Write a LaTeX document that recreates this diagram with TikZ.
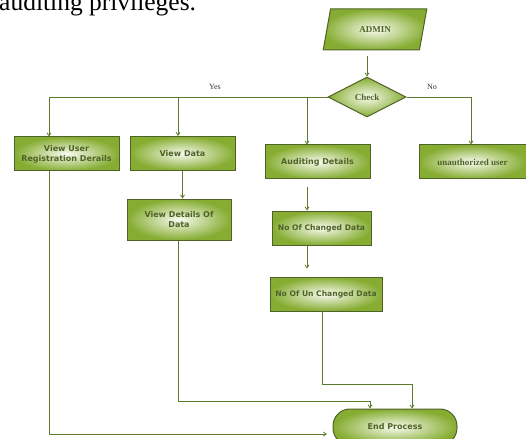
\documentclass[tikz,border=0pt]{standalone}
\usepackage{fontspec}
\setmainfont{Liberation Serif}
\setsansfont{DejaVu Sans}
\usetikzlibrary{shapes.geometric,arrows.meta}
\definecolor{olive}{HTML}{4F6228}
\definecolor{leaf}{HTML}{86AD32}
\definecolor{wire}{HTML}{5E7B2C}
\definecolor{pale}{HTML}{F8FBF0}

\begin{document}
\begin{tikzpicture}[x=1pt,y=-1pt,
    wire/.style = {draw=wire, line width=0.8pt},
    arrow/.style = {wire, -{Straight Barb[length=3pt,width=4pt]}},
    greenfill/.style = {draw=olive, line width=1pt, inner color=pale, outer color=leaf},
    box/.style = {greenfill, rectangle, minimum width=#1, minimum height=34pt,
                  align=center, inner sep=0pt, text=olive,
                  font=\sffamily\bfseries\fontsize{8}{10}\selectfont},
    serifbold/.style = {font=\bfseries\fontsize{9}{10}\selectfont},
    para/.style = {greenfill, trapezium, trapezium left angle=76, trapezium right angle=104,
                   trapezium stretches=true, minimum width=104pt, minimum height=41pt,
                   text=olive, serifbold},
    check/.style = {greenfill, diamond, minimum width=78pt, minimum height=40pt,
                    inner sep=0pt, text=olive, serifbold},
    endbox/.style = {box=124pt, minimum height=36pt, rounded corners=17pt},
    answer/.style = {font=\fontsize{8}{9}\selectfont, text=black!80}]

    \useasboundingbox (0,0) rectangle (526,438);

    \node[anchor=base west, inner sep=0pt, font=\fontsize{25.5}{25}\selectfont]
        (title) at (-1,11) {auditing privileges.};

    \node[para] (admin) at (375,29.5) {ADMIN};
    \node[check] (check) at (367,97) {Check};

    \node[box=105pt] (user) at (66.5,154) {View User\\Registration Derails};
    \node[box=105pt] (viewdata) at (182.5,153.5) {View Data};
    \node[box=104pt, minimum height=41pt] (details) at (179,219.5) {View Details Of\\Data};
    \node[box=105pt] (audit) at (317.5,162) {Auditing Details};
    \node[box=107pt, serifbold] (unauth) at (472.5,162) {unauthorized user};
    \node[box=99pt, font=\sffamily\bfseries\fontsize{7.6}{10}\selectfont] (changed) at (321.5,228) {No Of Changed Data};
    \node[box=112pt, font=\sffamily\bfseries\fontsize{7.6}{10}\selectfont] (unchanged) at (326,294) {No Of Un Changed Data};
    \node[endbox] (end) at (395,427) {End Process};

    \node[answer] (yes) at (215,87) {Yes};
    \node[answer] (no) at (432,87) {No};

    % branch points on the yes / no line
    \coordinate (b1) at (49,97);
    \coordinate (b2) at (178,97);
    \coordinate (b3) at (307,97);
    \coordinate (b4) at (471,97);
    \coordinate (e0) at (327,434);
    \coordinate (e1) at (370,401);
    \coordinate (e2) at (412,384);

    \draw[arrow, shorten <=5pt] (check.north |- admin.south) -- (check.north);
    \draw[wire] (check.west) -- (b1);
    \draw[arrow] (b1) -- (b1 |- user.north);
    \draw[arrow] (b2) -- (b2 |- viewdata.north);
    \draw[arrow] (b3) -- (b3 |- audit.north);
    \draw[arrow] (check.east) -- (b4) -- (b4 |- unauth.north);

    \draw[arrow] (viewdata.south) -- (viewdata.south |- details.north);
    \draw[arrow, shorten <=7pt] (b3 |- audit.south) -- (b3 |- changed.north);
    \draw[arrow, shorten >=8pt] (b3 |- changed.south) -- (b3 |- unchanged.north);

    \draw[arrow] ([xshift=-4pt]unchanged.south) |- (e2) -- (e2 |- end.north);
    \draw[arrow] (b2 |- details.south) |- (e1) -- (e1 |- end.north);
    \draw[arrow] (b1 |- user.south) |- (e0);
\end{tikzpicture}
\end{document}
